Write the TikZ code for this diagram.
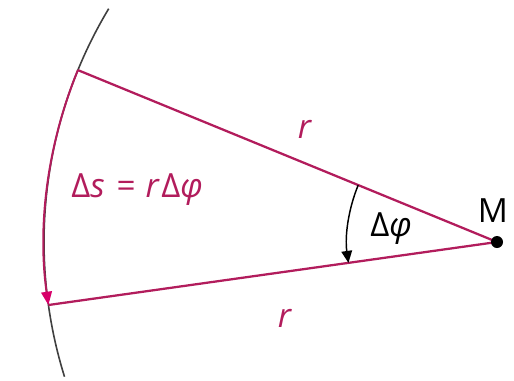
\documentclass[tikz,border=0pt]{standalone}
\usepackage{fontspec}
\setmainfont{Open Sans}
\usetikzlibrary{arrows.meta}
\definecolor{arcmag}{RGB}{178,28,92}
\definecolor{tipmag}{RGB}{215,0,105}

\begin{document}
\begin{tikzpicture}[x=0.75pt,y=0.75pt,yscale=-1,xscale=1,
  lbl/.style={font=\fontsize{25}{27}\selectfont,inner sep=0pt}]
%set diagram size 514 x 380
\useasboundingbox (0,0) rectangle (514,380);

%Coordinates: centre and ends of the radii
\coordinate (M) at (497,242);
\coordinate (A) at (77.9,70.1);
\coordinate (B) at (48.4,305);

%Arc: circle of radius r
\draw [line width=1.2pt,color=black!75]  (108.7,8.7) arc (211:162.7:339.75pt) ;
%Arc: ds
\draw [line width=1.5pt,color=arcmag,-{Triangle[length=10pt,width=8pt,color=tipmag]}]  (A) arc (202.3:172:339.75pt) ;
%Straight Lines: radii
\draw [line width=1.7pt,color=arcmag]  (M) -- (A) ;
\draw [line width=1.7pt,color=arcmag]  (M) -- (B) ;
%Arc: dphi
\draw [line width=1.1pt,-{Triangle[length=9pt,width=8pt]}]  (358.2,185.1) arc (202.3:172:112.5pt) ;
%Shape: Circle
\fill (M) circle (4.5pt) ;

%Labels
\node [lbl] (lblM) at (493,211) {M};
\node [lbl,color=arcmag] (lblr1) at (305,129) {\textit{r}};
\node [lbl,color=arcmag] (lblr2) at (285,318) {\textit{r}};
\node [lbl,color=arcmag] (lblds) at (138,190) {\addfontfeatures{LetterSpace=5}Δ\textit{s}\hspace{0.3em}=\hspace{0.3em}\textit{r}Δ\textit{φ}};
\node [lbl] (lbldphi) at (392,229) {\addfontfeatures{LetterSpace=5}Δ\textit{φ}};

\end{tikzpicture}
\end{document}
